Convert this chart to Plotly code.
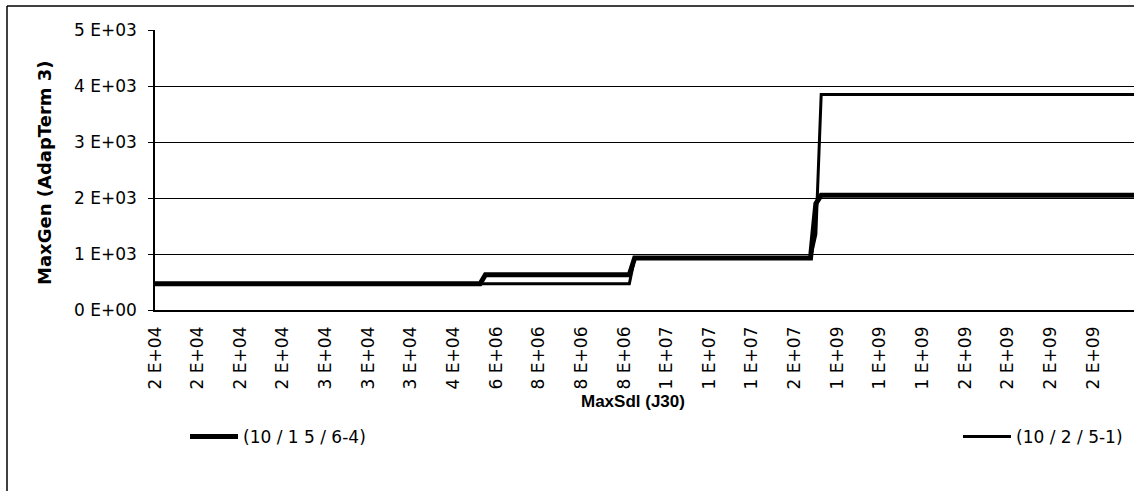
import plotly.graph_objects as go

# Category tick labels (every 8th category of MaxSdl is labelled)
tick_labels = ["2 E+04", "2 E+04", "2 E+04", "2 E+04", "3 E+04", "3 E+04", "3 E+04",
               "4 E+04", "6 E+06", "8 E+06", "8 E+06", "8 E+06", "1 E+07", "1 E+07",
               "1 E+07", "2 E+07", "1 E+09", "1 E+09", "1 E+09", "2 E+09", "2 E+09",
               "2 E+09", "2 E+09"]
label_every = 8

# Series: category index where the value changes, and the MaxGen value there
s1_name = "(10 / 1 5 / 6-4)"
s1_idx = [0, 61, 62, 89, 90, 123, 124, 125, 184]
s1_val = [470, 470, 630, 630, 930, 930, 1900, 2050, 2050]

s2_name = "(10 / 2 / 5-1)"
s2_idx = [0, 89, 90, 123, 124, 125, 184]
s2_val = [470, 470, 930, 930, 1350, 3850, 3850]

y_ticks = [0, 1000, 2000, 3000, 4000, 5000]
y_ticktext = ["0 E+00", "1 E+03", "2 E+03", "3 E+03", "4 E+03", "5 E+03"]

W, H = 1134, 491
L, R, T, B = 155, 0, 30, 181
PW, PH = W - L - R, H - T - B
CAT_PX = 42.636 / label_every
FONT = "DejaVu Sans"


def px(x):
    return (x - L) / PW


def py(y):
    return (H - B - y) / PH


fig = go.Figure()
fig.add_trace(go.Scatter(x=s1_idx, y=s1_val, mode="lines", name=s1_name,
                         line=dict(color="black", width=5), legend="legend"))
fig.add_trace(go.Scatter(x=s2_idx, y=s2_val, mode="lines", name=s2_name,
                         line=dict(color="black", width=3), legend="legend2"))

legend_style = dict(orientation="h", xanchor="left", yanchor="middle",
                    itemwidth=48,
                    font=dict(family=FONT, size=17, color="black"),
                    bgcolor="rgba(0,0,0,0)", borderwidth=0)

fig.update_layout(
    width=W, height=H,
    margin=dict(l=L, r=R, t=T, b=B, pad=0),
    paper_bgcolor="white", plot_bgcolor="white",
    font=dict(family=FONT, size=17, color="black"),
    showlegend=True,
    legend=dict(x=px(185), y=py(437), **legend_style),
    legend2=dict(x=px(958), y=py(437), **legend_style),
    xaxis=dict(range=[0, PW / CAT_PX], tickmode="array",
               tickvals=[i * label_every for i in range(len(tick_labels))],
               ticktext=tick_labels, tickangle=-90, ticks="",
               ticklabelstandoff=8,
               showgrid=False, zeroline=False, showline=True,
               linecolor="black", linewidth=1.5,
               tickfont=dict(family=FONT, size=17)),
    yaxis=dict(range=[0, 5000], tickmode="array", tickvals=y_ticks,
               ticktext=y_ticktext, ticks="outside", ticklen=5, tickcolor="black",
               ticklabelstandoff=8,
               showgrid=True, gridcolor="black", gridwidth=1,
               zeroline=False, showline=True, linecolor="black", linewidth=1.5,
               tickfont=dict(family=FONT, size=17)),
    annotations=[
        dict(text="<b>MaxGen (AdapTerm 3)</b>", xref="paper", yref="paper",
             x=px(44), y=py(173), textangle=-90, showarrow=False,
             xanchor="center", yanchor="middle",
             font=dict(family=FONT, size=18, color="black")),
        dict(text="<b>MaxSdl (J30)</b>", xref="paper", yref="paper",
             x=px(633), y=py(401), showarrow=False,
             xanchor="center", yanchor="middle",
             font=dict(family="Liberation Sans", size=17, color="black")),
    ],
    shapes=[
        # outer chart frame (left and top edges visible)
        dict(type="line", xref="paper", yref="paper", x0=px(7), x1=px(7),
             y0=py(6), y1=py(H + 10), line=dict(color="black", width=1.5)),
        dict(type="line", xref="paper", yref="paper", x0=px(7), x1=px(W + 10),
             y0=py(6), y1=py(6), line=dict(color="black", width=1.5)),
    ],
)

fig.write_html("out.html")
